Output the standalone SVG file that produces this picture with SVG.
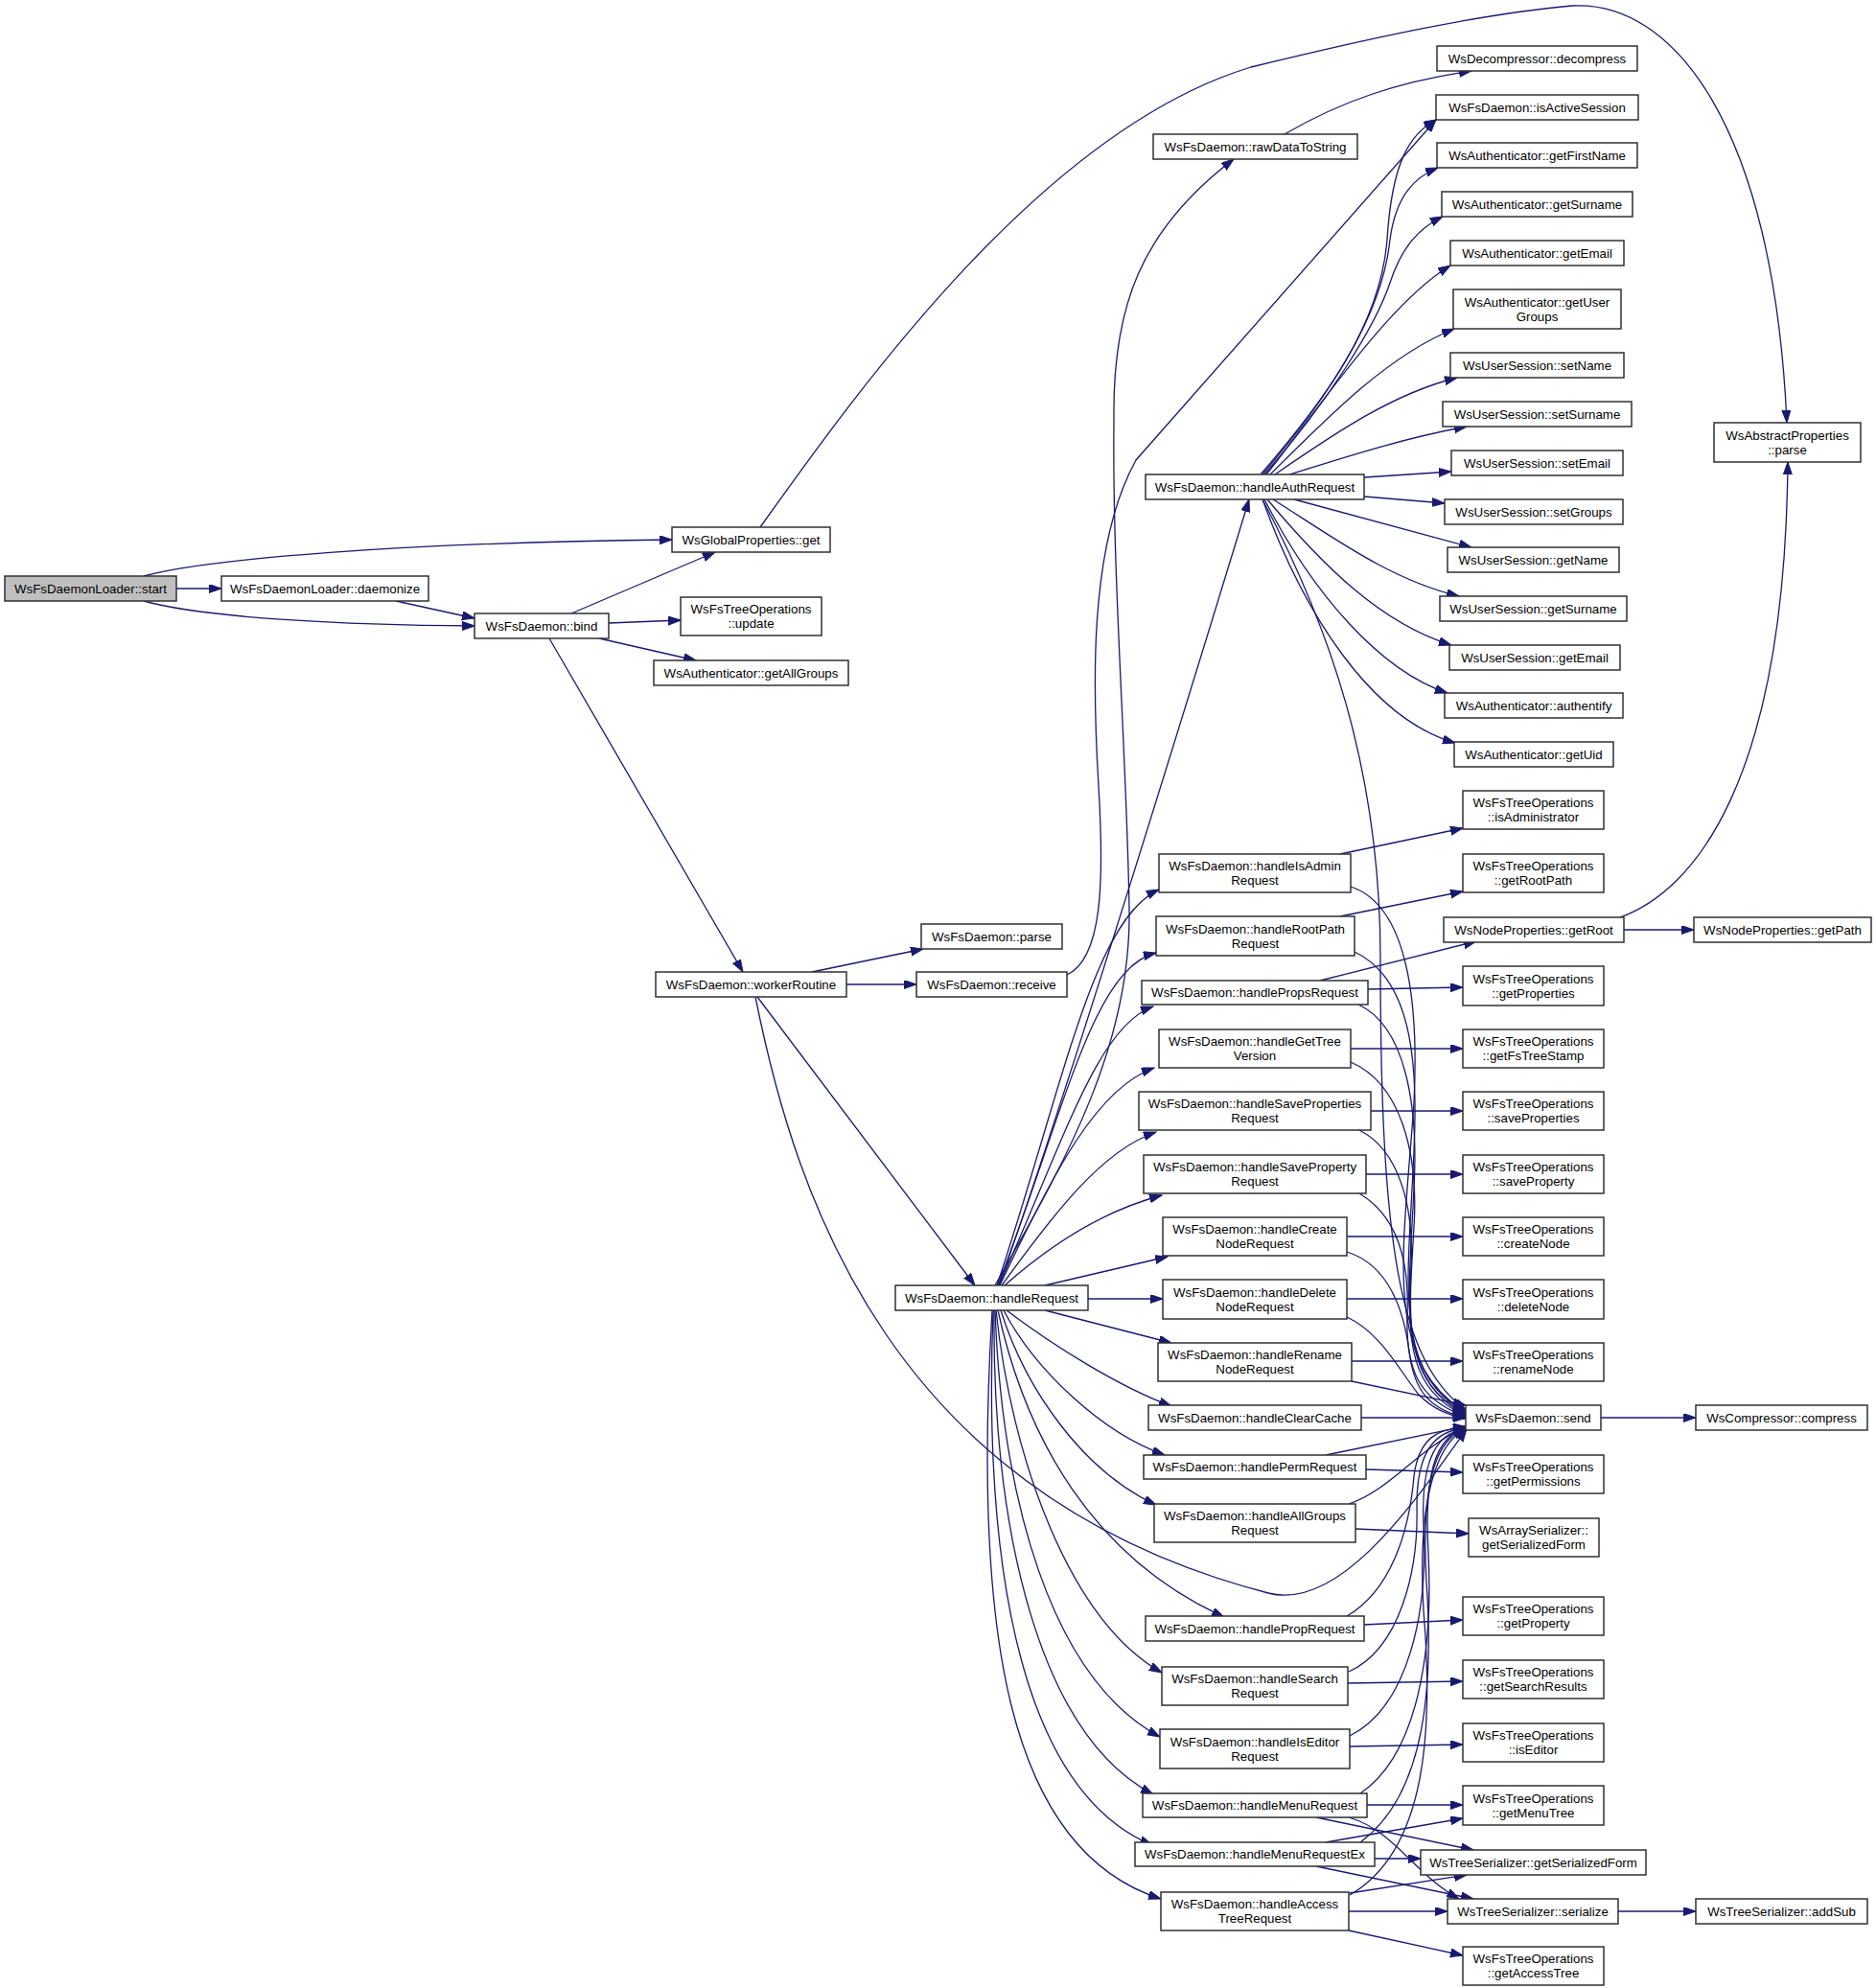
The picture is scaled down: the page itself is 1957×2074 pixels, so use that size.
<svg xmlns="http://www.w3.org/2000/svg" width="1957" height="2074" viewBox="0 0 1957 2074">
<style>
.node rect{fill:#ffffff;stroke:#303030;stroke-width:1.5}
.node.root rect{fill:#bfbfbf}
.node text{font-family:"Liberation Sans",Arial,Helvetica,sans-serif;font-size:13.3px;fill:#000;text-anchor:middle}
#edges path{fill:none;stroke:#191970;stroke-width:1.3;marker-end:url(#arr)}
</style>
<defs>
<marker id="arr" markerUnits="userSpaceOnUse" markerWidth="14" markerHeight="10" refX="13" refY="4.5" orient="auto">
<path d="M0,0 L13,4.5 L0,9 z" fill="#191970" stroke="#191970" stroke-width="1"/>
</marker>
</defs>
<rect x="0" y="0" width="1957" height="2074" fill="#ffffff"/>
<g id="edges">
<path d="M184,614 L231,614"/>
<path d="M150,601 C215,583 420,566 701,563"/>
<path d="M150,627 C215,645 360,652 495,653"/>
<path d="M413,627 L495,645"/>
<path d="M596,640 L746,576"/>
<path d="M635,650 L710,647"/>
<path d="M625,666 L726,689"/>
<path d="M573,666 L775,1014"/>
<path d="M793,550 C900,400 1090,135 1305,70 C1420,42 1540,15 1640,6 C1745,0 1850,130 1864,441"/>
<path d="M847,1014 L963,990"/>
<path d="M883,1027 L956,1027"/>
<path d="M790,1040 L1017,1341"/>
<path d="M788,1040 C830,1250 930,1560 1323,1662 C1400,1682 1480,1560 1530,1491"/>
<path d="M1113,1017 C1150,1000 1152,920 1146,820 C1140,720 1135,570 1185,480 L1498,125"/>
<path d="M1038,1341 C1100,1230 1180,1100 1178,950 C1176,800 1160,600 1162,440 C1160,320 1190,240 1287,166"/>
<path d="M1340,140 C1400,105 1460,85 1535,74"/>
<path d="M1042,1341 C1100,1180 1230,760 1303,521"/>
<path d="M1040,1341 C1110,1130 1140,960 1209,928"/>
<path d="M1041,1341 C1110,1160 1140,1010 1206,994"/>
<path d="M1042,1341 C1110,1190 1145,1070 1203,1050"/>
<path d="M1043,1341 C1100,1220 1145,1135 1204,1114"/>
<path d="M1045,1341 C1100,1265 1150,1200 1206,1181"/>
<path d="M1048,1341 C1100,1295 1155,1262 1212,1247"/>
<path d="M1090,1341 L1218,1311"/>
<path d="M1135,1355 L1213,1355"/>
<path d="M1090,1367 L1222,1401"/>
<path d="M1050,1367 C1100,1405 1170,1448 1222,1467"/>
<path d="M1047,1367 C1080,1430 1150,1495 1215,1518"/>
<path d="M1044,1367 C1070,1450 1130,1535 1206,1570"/>
<path d="M1041,1367 C1070,1500 1140,1625 1277,1687"/>
<path d="M1039,1367 C1055,1520 1115,1690 1212,1745"/>
<path d="M1038,1367 C1045,1560 1095,1750 1210,1812"/>
<path d="M1037,1367 C1035,1600 1085,1810 1203,1872"/>
<path d="M1036,1367 C1025,1650 1070,1870 1202,1925"/>
<path d="M1035,1367 C1015,1700 1050,1930 1211,1981"/>
<path d="M1315,495 C1380,420 1440,340 1447,250 C1452,170 1470,140 1498,125"/>
<path d="M1317,495 C1385,415 1442,330 1450,250 C1456,205 1475,185 1500,175"/>
<path d="M1319,495 C1385,420 1435,340 1450,295 C1462,258 1480,238 1505,226"/>
<path d="M1321,495 C1380,420 1450,315 1513,277"/>
<path d="M1325,495 C1390,430 1450,370 1517,343"/>
<path d="M1330,495 C1395,450 1455,410 1520,394"/>
<path d="M1345,495 C1400,478 1460,458 1530,445"/>
<path d="M1423,498 L1514,492"/>
<path d="M1423,518 L1507,525"/>
<path d="M1350,521 L1535,571"/>
<path d="M1328,521 C1390,560 1450,605 1522,622"/>
<path d="M1322,521 C1380,590 1440,650 1514,673"/>
<path d="M1319,521 C1370,620 1440,700 1510,723"/>
<path d="M1317,521 C1360,640 1430,750 1518,775"/>
<path d="M1317,521 C1385,650 1440,800 1440,1000 C1440,1300 1460,1420 1529,1471"/>
<path d="M1398,891 L1526,864"/>
<path d="M1398,956 L1526,930"/>
<path d="M1377,1023 L1540,982"/>
<path d="M1427,1032 L1526,1030"/>
<path d="M1694,970 L1767,970"/>
<path d="M1690,957 C1765,930 1862,820 1865,482"/>
<path d="M1409,1094 L1526,1094"/>
<path d="M1430,1159 L1526,1159"/>
<path d="M1425,1225 L1526,1225"/>
<path d="M1405,1290 L1526,1290"/>
<path d="M1405,1355 L1526,1355"/>
<path d="M1410,1420 L1526,1420"/>
<path d="M1420,1479 L1529,1479"/>
<path d="M1670,1479 L1769,1479"/>
<path d="M1409,925 C1470,945 1480,1050 1475,1150 C1465,1300 1440,1420 1529,1473"/>
<path d="M1413,993 C1470,1020 1480,1100 1475,1200 C1470,1330 1450,1430 1529,1474"/>
<path d="M1417,1048 C1465,1070 1480,1150 1475,1240 C1470,1350 1455,1440 1529,1475"/>
<path d="M1409,1108 C1460,1130 1480,1200 1475,1280 C1470,1370 1460,1440 1529,1476"/>
<path d="M1418,1179 C1460,1200 1475,1260 1472,1320 C1468,1400 1470,1450 1529,1477"/>
<path d="M1418,1245 C1460,1270 1470,1320 1468,1370 C1466,1430 1480,1460 1529,1478"/>
<path d="M1405,1306 C1450,1320 1465,1370 1470,1410 C1475,1450 1490,1470 1529,1479"/>
<path d="M1405,1374 C1440,1390 1460,1430 1480,1455 C1495,1470 1510,1476 1529,1480"/>
<path d="M1410,1441 L1529,1466"/>
<path d="M1383,1518 L1529,1488"/>
<path d="M1407,1569 C1450,1555 1480,1510 1529,1489"/>
<path d="M1405,1686 C1450,1660 1470,1600 1475,1540 C1480,1500 1500,1490 1529,1489"/>
<path d="M1407,1744 C1460,1720 1480,1640 1478,1570 C1478,1510 1500,1492 1529,1490"/>
<path d="M1408,1811 C1470,1780 1490,1680 1485,1590 C1482,1520 1500,1495 1529,1490"/>
<path d="M1419,1871 C1480,1830 1495,1720 1490,1620 C1485,1530 1500,1498 1529,1490"/>
<path d="M1419,1922 C1490,1870 1495,1750 1488,1650 C1482,1540 1500,1500 1529,1491"/>
<path d="M1408,1977 C1490,1930 1495,1800 1485,1680 C1478,1560 1500,1505 1529,1491"/>
<path d="M1425,1533 L1526,1536"/>
<path d="M1414,1595 L1532,1600"/>
<path d="M1423,1695 L1526,1690"/>
<path d="M1406,1756 L1526,1754"/>
<path d="M1408,1822 L1526,1820"/>
<path d="M1426,1883 L1526,1883"/>
<path d="M1373,1896 L1537,1930"/>
<path d="M1407,1896 C1455,1910 1475,1955 1522,1981"/>
<path d="M1383,1922 L1526,1897"/>
<path d="M1434,1939 L1482,1939"/>
<path d="M1373,1947 L1537,1981"/>
<path d="M1408,1975 L1530,1956"/>
<path d="M1407,1994 L1510,1994"/>
<path d="M1407,2014 L1526,2040"/>
<path d="M1688,1994 L1769,1994"/>
</g>
<g id="n_start" class="node root"><rect x="5" y="601" width="179" height="26"/><text x="94.5" y="619">WsFsDaemonLoader::start</text></g>
<g id="n_daemonize" class="node"><rect x="231" y="601" width="216" height="26"/><text x="339" y="619">WsFsDaemonLoader::daemonize</text></g>
<g id="n_bind" class="node"><rect x="495" y="640" width="140" height="26"/><text x="565" y="658">WsFsDaemon::bind</text></g>
<g id="n_gpget" class="node"><rect x="701" y="550" width="165" height="26"/><text x="783.5" y="568">WsGlobalProperties::get</text></g>
<g id="n_update" class="node"><rect x="710" y="623" width="147" height="40"/><text x="783.5" y="640">WsFsTreeOperations</text><text x="783.5" y="655">::update</text></g>
<g id="n_getAllGroups" class="node"><rect x="682" y="689" width="203" height="26"/><text x="783.5" y="707">WsAuthenticator::getAllGroups</text></g>
<g id="n_workerRoutine" class="node"><rect x="684" y="1014" width="199" height="26"/><text x="783.5" y="1032">WsFsDaemon::workerRoutine</text></g>
<g id="n_parse" class="node"><rect x="961" y="964" width="147" height="26"/><text x="1034.5" y="982">WsFsDaemon::parse</text></g>
<g id="n_receive" class="node"><rect x="956" y="1014" width="157" height="26"/><text x="1034.5" y="1032">WsFsDaemon::receive</text></g>
<g id="n_handleRequest" class="node"><rect x="934" y="1341" width="201" height="26"/><text x="1034.5" y="1359">WsFsDaemon::handleRequest</text></g>
<g id="n_rawDataToString" class="node"><rect x="1203" y="140" width="213" height="26"/><text x="1309.5" y="158">WsFsDaemon::rawDataToString</text></g>
<g id="n_handleAuthRequest" class="node"><rect x="1195" y="495" width="228" height="26"/><text x="1309" y="513">WsFsDaemon::handleAuthRequest</text></g>
<g id="n_decompress" class="node"><rect x="1499" y="48" width="209" height="26"/><text x="1603.5" y="66">WsDecompressor::decompress</text></g>
<g id="n_isActiveSession" class="node"><rect x="1498" y="99" width="211" height="26"/><text x="1603.5" y="117">WsFsDaemon::isActiveSession</text></g>
<g id="n_getFirstName" class="node"><rect x="1499" y="149" width="209" height="26"/><text x="1603.5" y="167">WsAuthenticator::getFirstName</text></g>
<g id="n_authGetSurname" class="node"><rect x="1504" y="200" width="199" height="26"/><text x="1603.5" y="218">WsAuthenticator::getSurname</text></g>
<g id="n_authGetEmail" class="node"><rect x="1513" y="251" width="181" height="26"/><text x="1603.5" y="269">WsAuthenticator::getEmail</text></g>
<g id="n_getUserGroups" class="node"><rect x="1516" y="302" width="175" height="41"/><text x="1603.5" y="320">WsAuthenticator::getUser</text><text x="1603.5" y="335">Groups</text></g>
<g id="n_setName" class="node"><rect x="1513" y="368" width="181" height="26"/><text x="1603.5" y="386">WsUserSession::setName</text></g>
<g id="n_setSurname" class="node"><rect x="1505" y="419" width="197" height="26"/><text x="1603.5" y="437">WsUserSession::setSurname</text></g>
<g id="n_setEmail" class="node"><rect x="1514" y="470" width="179" height="26"/><text x="1603.5" y="488">WsUserSession::setEmail</text></g>
<g id="n_setGroups" class="node"><rect x="1507" y="521" width="186" height="26"/><text x="1600" y="539">WsUserSession::setGroups</text></g>
<g id="n_usGetName" class="node"><rect x="1510" y="571" width="179" height="26"/><text x="1599.5" y="589">WsUserSession::getName</text></g>
<g id="n_usGetSurname" class="node"><rect x="1502" y="622" width="195" height="26"/><text x="1599.5" y="640">WsUserSession::getSurname</text></g>
<g id="n_usGetEmail" class="node"><rect x="1512" y="673" width="178" height="26"/><text x="1601" y="691">WsUserSession::getEmail</text></g>
<g id="n_authentify" class="node"><rect x="1507" y="723" width="186" height="26"/><text x="1600" y="741">WsAuthenticator::authentify</text></g>
<g id="n_getUid" class="node"><rect x="1517" y="774" width="166" height="26"/><text x="1600" y="792">WsAuthenticator::getUid</text></g>
<g id="n_absParse" class="node"><rect x="1788" y="441" width="153" height="41"/><text x="1864.5" y="459">WsAbstractProperties</text><text x="1864.5" y="474">::parse</text></g>
<g id="n_isAdministrator" class="node"><rect x="1526" y="825" width="147" height="40"/><text x="1599.5" y="842">WsFsTreeOperations</text><text x="1599.5" y="857">::isAdministrator</text></g>
<g id="n_getRootPath" class="node"><rect x="1526" y="891" width="147" height="40"/><text x="1599.5" y="908">WsFsTreeOperations</text><text x="1599.5" y="923">::getRootPath</text></g>
<g id="n_getRoot" class="node"><rect x="1506" y="957" width="188" height="26"/><text x="1600" y="975">WsNodeProperties::getRoot</text></g>
<g id="n_getPath" class="node"><rect x="1767" y="957" width="185" height="26"/><text x="1859.5" y="975">WsNodeProperties::getPath</text></g>
<g id="n_getProperties" class="node"><rect x="1526" y="1008" width="147" height="41"/><text x="1599.5" y="1026">WsFsTreeOperations</text><text x="1599.5" y="1041">::getProperties</text></g>
<g id="n_getFsTreeStamp" class="node"><rect x="1526" y="1074" width="147" height="40"/><text x="1599.5" y="1091">WsFsTreeOperations</text><text x="1599.5" y="1106">::getFsTreeStamp</text></g>
<g id="n_saveProperties" class="node"><rect x="1526" y="1139" width="147" height="40"/><text x="1599.5" y="1156">WsFsTreeOperations</text><text x="1599.5" y="1171">::saveProperties</text></g>
<g id="n_saveProperty" class="node"><rect x="1526" y="1205" width="147" height="40"/><text x="1599.5" y="1222">WsFsTreeOperations</text><text x="1599.5" y="1237">::saveProperty</text></g>
<g id="n_createNode" class="node"><rect x="1526" y="1270" width="147" height="40"/><text x="1599.5" y="1287">WsFsTreeOperations</text><text x="1599.5" y="1302">::createNode</text></g>
<g id="n_deleteNode" class="node"><rect x="1526" y="1335" width="147" height="41"/><text x="1599.5" y="1353">WsFsTreeOperations</text><text x="1599.5" y="1368">::deleteNode</text></g>
<g id="n_renameNode" class="node"><rect x="1526" y="1401" width="147" height="40"/><text x="1599.5" y="1418">WsFsTreeOperations</text><text x="1599.5" y="1433">::renameNode</text></g>
<g id="n_send" class="node"><rect x="1529" y="1466" width="141" height="26"/><text x="1599.5" y="1484">WsFsDaemon::send</text></g>
<g id="n_compress" class="node"><rect x="1769" y="1466" width="179" height="26"/><text x="1858.5" y="1484">WsCompressor::compress</text></g>
<g id="n_getPermissions" class="node"><rect x="1526" y="1518" width="147" height="40"/><text x="1599.5" y="1535">WsFsTreeOperations</text><text x="1599.5" y="1550">::getPermissions</text></g>
<g id="n_arrSerForm" class="node"><rect x="1532" y="1584" width="136" height="40"/><text x="1600" y="1601">WsArraySerializer::</text><text x="1600" y="1616">getSerializedForm</text></g>
<g id="n_getProperty" class="node"><rect x="1526" y="1666" width="147" height="40"/><text x="1599.5" y="1683">WsFsTreeOperations</text><text x="1599.5" y="1698">::getProperty</text></g>
<g id="n_getSearchResults" class="node"><rect x="1526" y="1732" width="147" height="40"/><text x="1599.5" y="1749">WsFsTreeOperations</text><text x="1599.5" y="1764">::getSearchResults</text></g>
<g id="n_isEditor" class="node"><rect x="1526" y="1798" width="147" height="40"/><text x="1599.5" y="1815">WsFsTreeOperations</text><text x="1599.5" y="1830">::isEditor</text></g>
<g id="n_getMenuTree" class="node"><rect x="1526" y="1863" width="147" height="41"/><text x="1599.5" y="1881">WsFsTreeOperations</text><text x="1599.5" y="1896">::getMenuTree</text></g>
<g id="n_treeSerForm" class="node"><rect x="1482" y="1930" width="235" height="26"/><text x="1599.5" y="1948">WsTreeSerializer::getSerializedForm</text></g>
<g id="n_serialize" class="node"><rect x="1510" y="1981" width="178" height="26"/><text x="1599" y="1999">WsTreeSerializer::serialize</text></g>
<g id="n_addSub" class="node"><rect x="1769" y="1981" width="179" height="26"/><text x="1858.5" y="1999">WsTreeSerializer::addSub</text></g>
<g id="n_getAccessTree" class="node"><rect x="1526" y="2031" width="147" height="40"/><text x="1599.5" y="2048">WsFsTreeOperations</text><text x="1599.5" y="2063">::getAccessTree</text></g>
<g id="n_handleIsAdmin" class="node"><rect x="1209" y="891" width="200" height="40"/><text x="1309" y="908">WsFsDaemon::handleIsAdmin</text><text x="1309" y="923">Request</text></g>
<g id="n_handleRootPath" class="node"><rect x="1206" y="956" width="207" height="41"/><text x="1309.5" y="974">WsFsDaemon::handleRootPath</text><text x="1309.5" y="989">Request</text></g>
<g id="n_handlePropsRequest" class="node"><rect x="1191" y="1023" width="236" height="25"/><text x="1309" y="1040">WsFsDaemon::handlePropsRequest</text></g>
<g id="n_handleGetTreeVersion" class="node"><rect x="1209" y="1074" width="200" height="40"/><text x="1309" y="1091">WsFsDaemon::handleGetTree</text><text x="1309" y="1106">Version</text></g>
<g id="n_handleSaveProperties" class="node"><rect x="1188" y="1139" width="242" height="40"/><text x="1309" y="1156">WsFsDaemon::handleSaveProperties</text><text x="1309" y="1171">Request</text></g>
<g id="n_handleSaveProperty" class="node"><rect x="1193" y="1205" width="232" height="40"/><text x="1309" y="1222">WsFsDaemon::handleSaveProperty</text><text x="1309" y="1237">Request</text></g>
<g id="n_handleCreate" class="node"><rect x="1213" y="1270" width="192" height="40"/><text x="1309" y="1287">WsFsDaemon::handleCreate</text><text x="1309" y="1302">NodeRequest</text></g>
<g id="n_handleDelete" class="node"><rect x="1213" y="1335" width="192" height="41"/><text x="1309" y="1353">WsFsDaemon::handleDelete</text><text x="1309" y="1368">NodeRequest</text></g>
<g id="n_handleRename" class="node"><rect x="1208" y="1401" width="202" height="40"/><text x="1309" y="1418">WsFsDaemon::handleRename</text><text x="1309" y="1433">NodeRequest</text></g>
<g id="n_handleClearCache" class="node"><rect x="1198" y="1466" width="222" height="26"/><text x="1309" y="1484">WsFsDaemon::handleClearCache</text></g>
<g id="n_handlePermRequest" class="node"><rect x="1193" y="1518" width="232" height="25"/><text x="1309" y="1535">WsFsDaemon::handlePermRequest</text></g>
<g id="n_handleAllGroups" class="node"><rect x="1204" y="1569" width="210" height="40"/><text x="1309" y="1586">WsFsDaemon::handleAllGroups</text><text x="1309" y="1601">Request</text></g>
<g id="n_handlePropRequest" class="node"><rect x="1195" y="1686" width="228" height="26"/><text x="1309" y="1704">WsFsDaemon::handlePropRequest</text></g>
<g id="n_handleSearch" class="node"><rect x="1212" y="1739" width="194" height="40"/><text x="1309" y="1756">WsFsDaemon::handleSearch</text><text x="1309" y="1771">Request</text></g>
<g id="n_handleIsEditor" class="node"><rect x="1210" y="1804" width="198" height="41"/><text x="1309" y="1822">WsFsDaemon::handleIsEditor</text><text x="1309" y="1837">Request</text></g>
<g id="n_handleMenuRequest" class="node"><rect x="1192" y="1871" width="234" height="25"/><text x="1309" y="1888">WsFsDaemon::handleMenuRequest</text></g>
<g id="n_handleMenuRequestEx" class="node"><rect x="1184" y="1922" width="250" height="25"/><text x="1309" y="1939">WsFsDaemon::handleMenuRequestEx</text></g>
<g id="n_handleAccessTree" class="node"><rect x="1211" y="1974" width="196" height="40"/><text x="1309" y="1991">WsFsDaemon::handleAccess</text><text x="1309" y="2006">TreeRequest</text></g>
</svg>
